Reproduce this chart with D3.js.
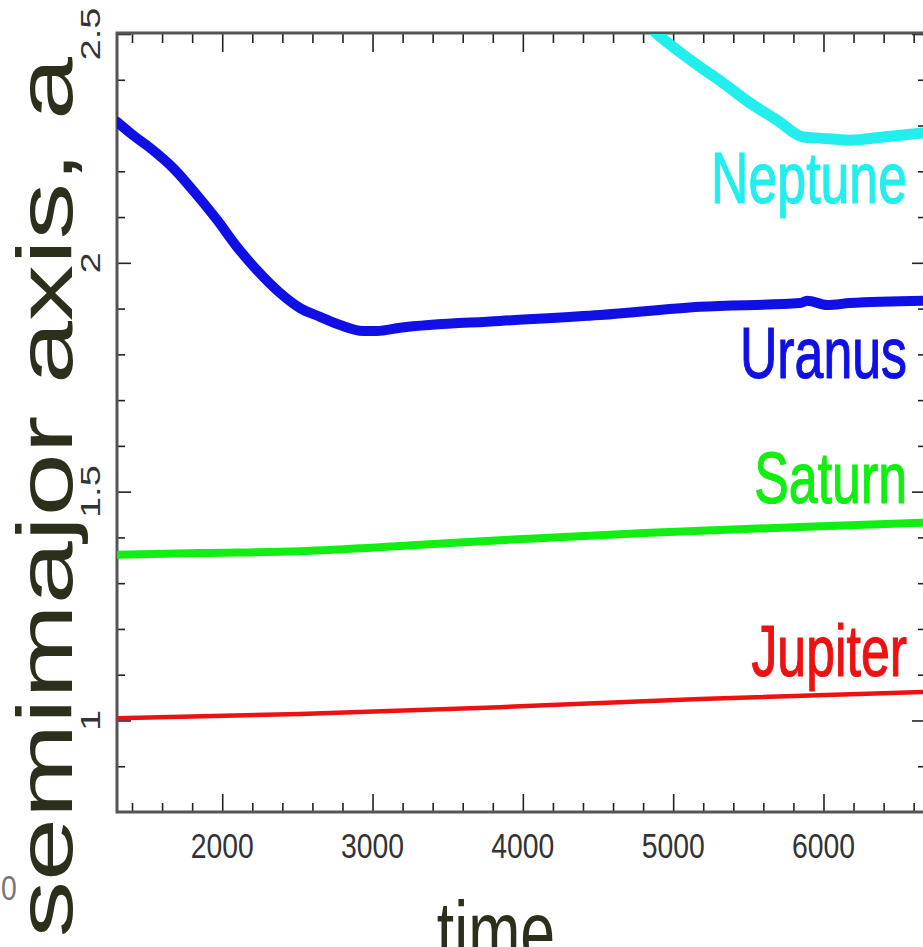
<!DOCTYPE html>
<html>
<head>
<meta charset="utf-8">
<script src="https://cdn.jsdelivr.net/npm/d3@7/dist/d3.min.js"></script>
<style>
  html, body { margin: 0; padding: 0; background: #fff; overflow: hidden; }
  svg { display: block; }
  text { font-family: "Liberation Sans", Arial, Helvetica, sans-serif; }
</style>
</head>
<body>
<svg id="chart" width="923" height="947"></svg>
<script>
// Semimajor axis evolution of the giant planets against time
const planetNames = ["Jupiter", "Saturn", "Uranus", "Neptune"];
const planetColors = ["#ee1111", "#11ee11", "#1010e6", "#22eeee"];

const jupiterTime = [1300, 2518, 3848, 5179, 6663];
const jupiterA    = [1.005, 1.014, 1.029, 1.047, 1.062];

const saturnTime = [1300, 1852, 2518, 3183, 3848, 4846, 5844, 6663];
const saturnA    = [1.362, 1.366, 1.370, 1.381, 1.394, 1.410, 1.423, 1.432];

const uranusTime = [1300, 1406, 1520, 1686, 1832, 1965, 2098, 2231, 2385, 2518, 2651, 2784, 2937, 3030,
                    3183, 3848, 4514, 5179, 5844, 5891, 6024, 6177, 6663];
const uranusA    = [2.308, 2.279, 2.251, 2.203, 2.148, 2.094, 2.035, 1.984, 1.934, 1.901, 1.882, 1.864, 1.851, 1.851,
                    1.858, 1.873, 1.886, 1.904, 1.912, 1.917, 1.908, 1.912, 1.917];

const neptuneTime = [4813, 4893, 5026, 5179, 5332, 5512, 5691, 5864, 5957, 6177, 6397, 6663];
const neptuneA    = [2.526, 2.500, 2.465, 2.428, 2.393, 2.349, 2.312, 2.275, 2.273, 2.268, 2.275, 2.284];

const xMajorTicks = [2000, 3000, 4000, 5000, 6000];
const xTickLabels = ["2000", "3000", "4000", "5000", "6000"];
const yMajorTicks = [1, 1.5, 2, 2.5];
const yTickLabels = ["1", "1.5", "2", "2.5"];

// planet name labels: baseline value in a
const labelA = [1.097, 1.475, 1.748, 2.131];

const svg = d3.select("#chart");
const plotLeft = 117, plotRight = 926, plotTop = 34, plotBottom = 812;

const x = d3.scaleLinear().domain([1300, 6682]).range([plotLeft, plotRight]);
const y = d3.scaleLinear().domain([0.8, 2.5]).range([plotBottom, plotTop]);

const xMinor = d3.range(1400, 6700, 200).filter(v => v % 1000 !== 0);
const yMinor = d3.range(9, 25).map(v => v / 10).filter(v => !yMajorTicks.some(m => Math.abs(m - v) < 1e-6));

// clip for the curves
svg.append("defs").append("clipPath").attr("id", "plot-clip")
  .append("rect").attr("x", plotLeft).attr("y", plotTop)
  .attr("width", plotRight - plotLeft).attr("height", plotBottom - plotTop);

// axes: frame with inward ticks on all four sides
function styleAxis(g) {
  g.select(".domain").remove();
  g.selectAll(".tick line").attr("stroke", "#222").attr("stroke-width", 1.6);
  g.selectAll(".tick text").remove();
}
const axisGroup = svg.append("g");
axisGroup.append("g").attr("transform", `translate(0,${plotBottom})`)
  .call(d3.axisBottom(x).tickValues(xMinor).tickSize(-9).tickFormat("")).call(styleAxis);
axisGroup.append("g").attr("transform", `translate(0,${plotBottom})`)
  .call(d3.axisBottom(x).tickValues(xMajorTicks).tickSize(-18).tickFormat("")).call(styleAxis);
axisGroup.append("g").attr("transform", `translate(0,${plotTop})`)
  .call(d3.axisTop(x).tickValues(xMinor).tickSize(-9).tickFormat("")).call(styleAxis);
axisGroup.append("g").attr("transform", `translate(0,${plotTop})`)
  .call(d3.axisTop(x).tickValues(xMajorTicks).tickSize(-18).tickFormat("")).call(styleAxis);
axisGroup.append("g").attr("transform", `translate(${plotLeft},0)`)
  .call(d3.axisLeft(y).tickValues(yMinor).tickSize(-8).tickFormat("")).call(styleAxis);
axisGroup.append("g").attr("transform", `translate(${plotLeft},0)`)
  .call(d3.axisLeft(y).tickValues(yMajorTicks).tickSize(-14).tickFormat("")).call(styleAxis);
axisGroup.append("g").attr("transform", `translate(${plotRight},0)`)
  .call(d3.axisRight(y).tickValues(yMinor).tickSize(-8).tickFormat("")).call(styleAxis);
axisGroup.append("g").attr("transform", `translate(${plotRight},0)`)
  .call(d3.axisRight(y).tickValues(yMajorTicks).tickSize(-14).tickFormat("")).call(styleAxis);

axisGroup.append("rect")
  .attr("x", plotLeft).attr("y", plotTop - 1)
  .attr("width", plotRight - plotLeft).attr("height", plotBottom - plotTop + 1)
  .attr("fill", "none").attr("stroke", "#555").attr("stroke-width", 3);

// tick labels
svg.append("g").selectAll("text").data(xMajorTicks).join("text")
  .attr("transform", d => `translate(${x(d)},858) scale(0.81,1)`)
  .attr("text-anchor", "middle").attr("font-size", 35).attr("fill", "#333")
  .text((d, i) => xTickLabels[i]);

svg.append("text")
  .attr("transform", "translate(1,900) scale(0.81,1)")
  .attr("font-size", 35).attr("fill", "#777").text("0");

svg.append("g").selectAll("text").data(yMajorTicks).join("text")
  .attr("transform", d => `translate(100,${y(d)}) scale(1,1.36) rotate(-90)`)
  .attr("text-anchor", "middle").attr("font-size", 28).attr("fill", "#333")
  .text((d, i) => yTickLabels[i]);

// axis titles
svg.append("text")
  .attr("transform", "translate(496,962) scale(0.72,1)")
  .attr("text-anchor", "middle").attr("font-size", 87).attr("fill", "#2e2e1c")
  .text("time");

svg.append("text")
  .attr("transform", "translate(72,57) scale(1,1.47) rotate(-90)")
  .attr("text-anchor", "end").attr("font-size", 77).attr("fill", "#2e2e1c")
  .text("semimajor axis, a");

// planet curves
const series = [
  { t: jupiterTime, a: jupiterA, w: 4.5 },
  { t: saturnTime, a: saturnA, w: 8 },
  { t: uranusTime, a: uranusA, w: 10 },
  { t: neptuneTime, a: neptuneA, w: 11 }
];
const line = d3.line().x(d => x(d[0])).y(d => y(d[1])).curve(d3.curveMonotoneX);
const curves = svg.append("g").attr("clip-path", "url(#plot-clip)");
series.forEach((s, i) => {
  curves.append("path")
    .datum(s.t.map((t, j) => [t, s.a[j]]))
    .attr("d", line)
    .attr("fill", "none")
    .attr("stroke", planetColors[i])
    .attr("stroke-width", s.w)
    .attr("stroke-linejoin", "round")
    .attr("stroke-linecap", "round");
});

// planet names
svg.append("g").selectAll("text").data(planetNames).join("text")
  .attr("transform", (d, i) => `translate(907,${y(labelA[i])}) scale(0.72,1)`)
  .attr("text-anchor", "end").attr("font-size", 72)
  .attr("fill", (d, i) => planetColors[i])
  .attr("stroke", (d, i) => planetColors[i]).attr("stroke-width", 1.2)
  .text(d => d);
</script>
</body>
</html>
